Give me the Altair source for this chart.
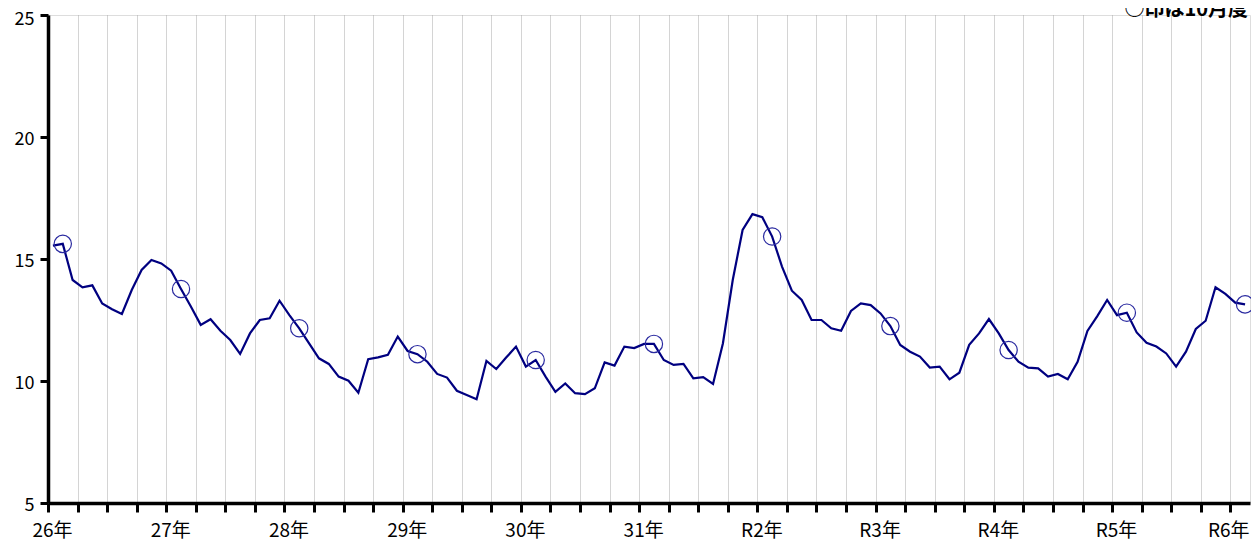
import altair as alt
import pandas as pd

# first month of the series is September (26年)
start_month = 9
values = [
    15.55, 15.62, 14.14, 13.84, 13.92, 13.18, 12.94, 12.75, 13.73, 14.55, 14.96, 14.82,
    14.52, 13.77, 13.05, 12.30, 12.53, 12.06, 11.68, 11.11, 11.95, 12.50, 12.57, 13.29,
    12.70, 12.16, 11.54, 10.93, 10.70, 10.18, 10.01, 9.52, 10.89, 10.97, 11.07, 11.82,
    11.23, 11.10, 10.79, 10.29, 10.14, 9.60, 9.43, 9.25, 10.82, 10.49, 10.96, 11.41,
    10.59, 10.86, 10.18, 9.56, 9.90, 9.50, 9.46, 9.70, 10.76, 10.63, 11.41, 11.35,
    11.52, 11.52, 10.86, 10.66, 10.70, 10.11, 10.16, 9.88, 11.54, 14.14, 16.19, 16.84,
    16.71, 15.92, 14.69, 13.70, 13.32, 12.50, 12.50, 12.16, 12.06, 12.87, 13.18, 13.11,
    12.77, 12.25, 11.48, 11.20, 11.00, 10.55, 10.59, 10.07, 10.34, 11.48, 11.95, 12.54,
    11.95, 11.27, 10.79, 10.55, 10.52, 10.18, 10.29, 10.07, 10.79, 12.05, 12.66, 13.32,
    12.70, 12.80, 11.99, 11.57, 11.41, 11.13, 10.59, 11.20, 12.13, 12.47, 13.84, 13.57,
    13.21, 13.14,
]
year_labels = ["26年", "27年", "28年", "29年", "30年", "31年", "R2年", "R3年", "R4年", "R5年", "R6年"]
y_ticks = [5, 10, 15, 20, 25]
note = "○印は10月度"
mark_month = 10

n = len(values)
months = [(start_month - 1 + i) % 12 + 1 for i in range(n)]
df = pd.DataFrame({"pos": [i + 0.5 for i in range(n)], "value": values, "month": months})

label_arr = "[" + ",".join("'" + s + "'" for s in year_labels) + "]"
label_expr = "datum.value % 12 == 0 ? " + label_arr + "[datum.value / 12] : ''"
last_tick = 12 * (len(year_labels) - 1)

FONT = "Noto Sans CJK JP"

x_enc = alt.X(
    "pos:Q",
    scale=alt.Scale(domain=[0, n], nice=False, zero=False),
    axis=alt.Axis(
        values=list(range(0, n, 3)), labelExpr=label_expr, title=None,
        grid=True, gridDash=[1, 1], gridColor="#a8a8a8", gridWidth=1,
        tickSize=9, tickWidth=3, tickColor="black",
        domainWidth=3.5, domainColor="black",
        labelFontSize=19, labelFont=FONT, labelColor="black",
        labelPadding=9, labelFlush=False, labelOverlap=False,
        labelOffset={"condition": {"test": "datum.value == %d" % last_tick, "value": -2}, "value": 4},
    ),
)
y_enc = alt.Y(
    "value:Q",
    scale=alt.Scale(domain=[5, 25], nice=False, zero=False),
    axis=alt.Axis(
        values=y_ticks, title=None, grid=False,
        tickSize=8, tickWidth=3, tickColor="black",
        domainWidth=3.5, domainColor="black",
        labelFontSize=18, labelFont=FONT, labelColor="black", labelPadding=6,
        labelOffset={"condition": {"test": "datum.value == %d" % max(y_ticks), "value": 4}, "value": 2},
    ),
)

base = alt.Chart(df)
line = base.mark_line(color="#000080", strokeWidth=2.2).encode(x=x_enc, y=y_enc)
circles = base.transform_filter(alt.datum.month == mark_month).mark_point(
    shape="circle", filled=False, size=300, color="#2a2aa0", strokeWidth=1.2, opacity=1
).encode(x=x_enc, y=y_enc)
note_text = alt.Chart(pd.DataFrame({"t": [note]})).mark_text(
    align="right", baseline="alphabetic", fontSize=20, fontWeight="bold", font=FONT, color="black"
).encode(text="t:N", x=alt.value(1200), y=alt.value(0.5))

chart = alt.layer(line, circles, note_text).properties(
    width=1202, height=488,
    autosize=alt.AutoSizeParams(type="none"),
    padding={"left": 40, "top": 7, "right": 1, "bottom": 37},
).configure_view(stroke="black", strokeWidth=3.5).configure(background="white")

chart.save("out.html", embed_options={"renderer": "svg", "actions": False})
